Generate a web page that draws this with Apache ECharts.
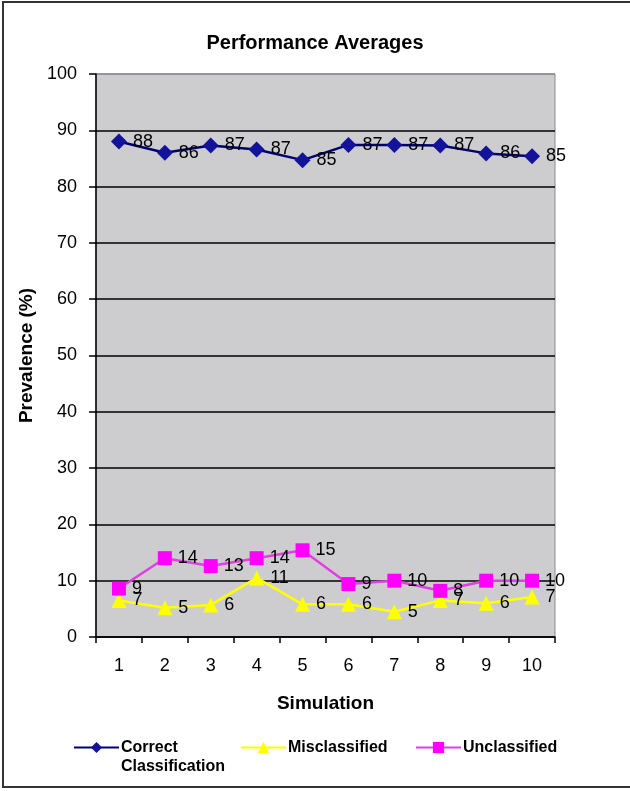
<!DOCTYPE html>
<html>
<head>
<meta charset="utf-8">
<script src="https://cdn.jsdelivr.net/npm/echarts@6/dist/echarts.min.js"></script>
<style>html,body{margin:0;padding:0;background:#fff}#c{width:630px;height:791px}</style>
</head>
<body>
<div id="c"></div>
<script>
const categories = ['1','2','3','4','5','6','7','8','9','10'];
const correctValues = [88.0, 86.0, 87.3, 86.6, 84.7, 87.4, 87.4, 87.3, 85.9, 85.4];
const misclassifiedValues = [6.5, 5.2, 5.7, 10.5, 5.8, 5.8, 4.5, 6.5, 6.0, 7.1];
const unclassifiedValues = [8.6, 14.0, 12.6, 14.0, 15.4, 9.4, 10.0, 8.2, 10.0, 10.0];
const seriesNames = ['Correct Classification', 'Misclassified', 'Unclassified'];

const FONT = "'Liberation Sans', Arial, sans-serif";
const chart = echarts.init(document.getElementById('c'), null, {renderer: 'canvas'});

const labelCfg = {
  show: true, position: 'right', distance: 6,
  color: '#000', fontSize: 18, fontFamily: FONT,
  formatter: p => Math.round(p.value)
};

function legendCfg(name, left, top, extra) {
  return Object.assign({
    data: [name], left: left, top: top, orient: 'horizontal',
    itemWidth: 45, itemHeight: 14, itemGap: 0, padding: 0,
    selectedMode: false,
    textStyle: {fontFamily: FONT, fontWeight: 'bold', fontSize: 16, color: '#000', lineHeight: 19, padding: [0,0,0,-3]}
  }, extra || {});
}

const splitColors = ['#000','#000','#000','#000','#000','#000','#000','#000','#000','#000','#8a8a8a'];

chart.setOption({
  animation: false,
  backgroundColor: '#fff',
  title: {
    text: 'Performance Averages', left: 'center', top: 28,
    textStyle: {fontFamily: FONT, fontWeight: 'bold', fontSize: 20, color: '#000'}
  },
  graphic: [{
    type: 'rect', shape: {x: 3, y: 2, width: 640, height: 785},
    style: {fill: null, stroke: '#333', lineWidth: 2}, silent: true, z: 100
  }],
  legend: [
    legendCfg(seriesNames[0], 73, 719, {
      formatter: n => '\u00a0\n' + n.replace(' ', '\n')
    }),
    legendCfg(seriesNames[1], 240, 738),
    legendCfg(seriesNames[2], 415, 738)
  ],
  grid: {
    left: 96, right: 75, top: 74, bottom: 154,
    show: true, backgroundColor: '#cdcdcf', borderColor: '#8a8a8a', borderWidth: 1
  },
  xAxis: {
    type: 'category', data: categories, boundaryGap: true,
    name: 'Simulation', nameLocation: 'middle', nameGap: 57,
    nameTextStyle: {fontFamily: FONT, fontWeight: 'bold', fontSize: 19, color: '#000'},
    axisLine: {lineStyle: {color: '#000', width: 1.5}},
    axisTick: {show: true, alignWithLabel: false, length: 6, lineStyle: {color: '#000', width: 1.5}},
    axisLabel: {fontFamily: FONT, fontSize: 18, color: '#000', margin: 20},
    splitLine: {show: false}
  },
  yAxis: {
    type: 'value', min: 0, max: 100, interval: 10,
    name: 'Prevalence (%)', nameLocation: 'middle', nameGap: 57,
    nameTextStyle: {fontFamily: FONT, fontWeight: 'bold', fontSize: 19, color: '#000'},
    axisLine: {show: true, lineStyle: {color: '#000', width: 1.5}},
    axisTick: {show: true, length: 7, lineStyle: {color: '#000', width: 1.5}},
    axisLabel: {fontFamily: FONT, fontSize: 18, color: '#000', margin: 19},
    splitLine: {show: true, lineStyle: {color: splitColors, width: 1.5}}
  },
  series: [
    {
      name: seriesNames[0], type: 'line', data: correctValues,
      symbol: 'diamond', symbolSize: 16,
      lineStyle: {color: '#000070', width: 2.5},
      itemStyle: {color: '#12129a'},
      label: labelCfg
    },
    {
      name: seriesNames[1], type: 'line', data: misclassifiedValues,
      symbol: 'triangle', symbolSize: 15,
      lineStyle: {color: '#ffff00', width: 2.5},
      itemStyle: {color: '#ffff00'},
      label: labelCfg
    },
    {
      name: seriesNames[2], type: 'line', data: unclassifiedValues,
      symbol: 'rect', symbolSize: 14,
      lineStyle: {color: '#e040e0', width: 2.5},
      itemStyle: {color: '#ff00ff'},
      label: labelCfg
    }
  ]
});
</script>
</body>
</html>
